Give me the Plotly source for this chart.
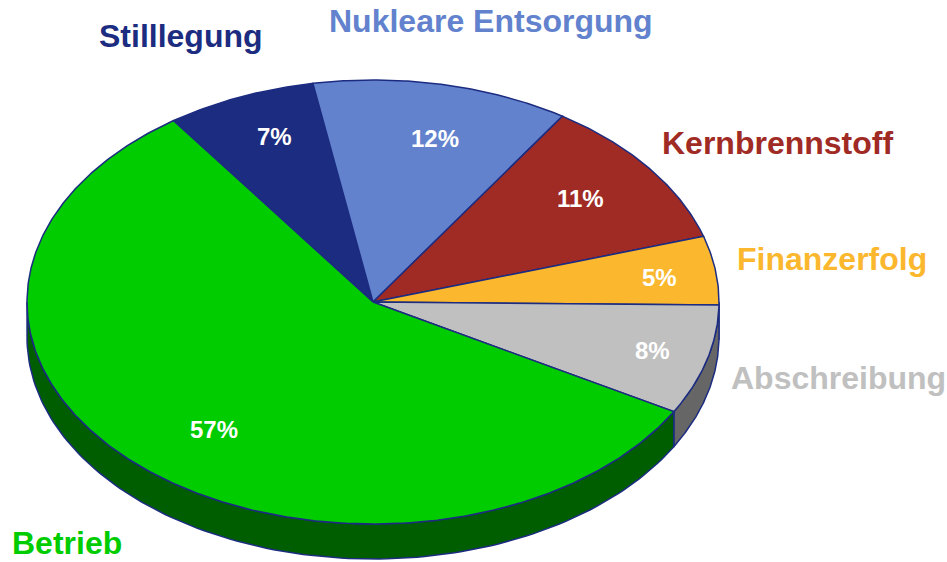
import numpy as np
import plotly.graph_objects as go

# ---- data ----
categories = ["Stilllegung", "Nukleare Entsorgung", "Kernbrennstoff", "Finanzerfolg", "Abschreibung", "Betrieb"]
values = [7, 12, 11, 5, 8, 57]
pct_labels = ["7%", "12%", "11%", "5%", "8%", "57%"]

# ---- styles / layout ----
top_colors = ["#1C2C80", "#6282CE", "#A02A24", "#FBB72D", "#C0C0C0", "#00CC00"]
side_colors = ["#0E1650", "#3A5090", "#601915", "#A07010", "#666666", "#005E00"]
label_colors = ["#1C2C80", "#6282CE", "#A02A24", "#FBB72D", "#C0C0C0", "#00CC00"]
edge_color = "#1C2C80"
W, H = 947, 562
cx, cy, rx, ry, depth = 373, 302, 346, 222, 35
start_deg = 125.2  # slices run clockwise from here
pct_label_pos = [(274, 136), (435, 138), (580, 198), (659, 277), (652, 350), (214, 429)]
cat_label_pos = [(181, 36), (491, 21), (777, 143), (832, 259), (838, 378), (67, 543)]
FONT = "Liberation Sans, Arial, sans-serif"

fig = go.Figure()

total = float(sum(values))
angles = [start_deg]
for v in values:
    angles.append(angles[-1] - 360.0 * v / total)

def pt(tdeg, dy=0.0):
    t = np.radians(tdeg)
    return cx + rx * np.cos(t), cy - ry * np.sin(t) + dy

# side walls (front half only: sin t < 0)
for i, v in enumerate(values):
    a0, a1 = angles[i], angles[i + 1]  # a0 > a1
    segs = []
    for k in (-360, 0, 360):
        lo = max(a1 + k, 180.0)
        hi = min(a0 + k, 360.0)
        if hi > lo:
            segs.append((lo, hi))
    for lo, hi in segs:
        ts = np.linspace(lo, hi, 120)
        xs_top, ys_top = pt(ts)
        xs_bot, ys_bot = pt(ts[::-1], depth)
        xs = np.concatenate([xs_top, xs_bot, xs_top[:1]])
        ys = np.concatenate([ys_top, ys_bot, ys_top[:1]])
        fig.add_trace(go.Scatter(x=xs, y=ys, mode="lines", fill="toself",
                                 fillcolor=side_colors[i],
                                 line=dict(color=edge_color, width=1.5),
                                 hoverinfo="skip", showlegend=False))

# top faces
for i, v in enumerate(values):
    a0, a1 = angles[i], angles[i + 1]
    ts = np.linspace(a0, a1, max(int(abs(a0 - a1) * 2), 10))
    ex, ey = pt(ts)
    xs = np.concatenate([[cx], ex, [cx]])
    ys = np.concatenate([[cy], ey, [cy]])
    fig.add_trace(go.Scatter(x=xs, y=ys, mode="lines", fill="toself",
                             fillcolor=top_colors[i],
                             line=dict(color=edge_color, width=1.5),
                             name=categories[i], hoverinfo="name",
                             showlegend=False))

annotations = []
for i, v in enumerate(values):
    px, py = pct_label_pos[i]
    annotations.append(dict(x=px, y=py, xref="x", yref="y", text="<b>" + pct_labels[i] + "</b>",
                            showarrow=False, xanchor="center", yanchor="middle",
                            font=dict(family=FONT, size=24, color="white")))
    lx, ly = cat_label_pos[i]
    annotations.append(dict(x=lx, y=ly, xref="x", yref="y", text="<b>" + categories[i] + "</b>",
                            showarrow=False, xanchor="center", yanchor="middle",
                            font=dict(family=FONT, size=32, color=label_colors[i])))

fig.update_layout(
    width=W, height=H,
    margin=dict(l=0, r=0, t=0, b=0),
    paper_bgcolor="white", plot_bgcolor="white",
    xaxis=dict(range=[0, W], visible=False, fixedrange=True),
    yaxis=dict(range=[H, 0], visible=False, fixedrange=True),
    annotations=annotations,
    showlegend=False,
)

fig.write_html(
    "out.html",
    config={"displayModeBar": False},
    post_script="document.body.style.margin='0';document.body.style.overflow='hidden';",
)
